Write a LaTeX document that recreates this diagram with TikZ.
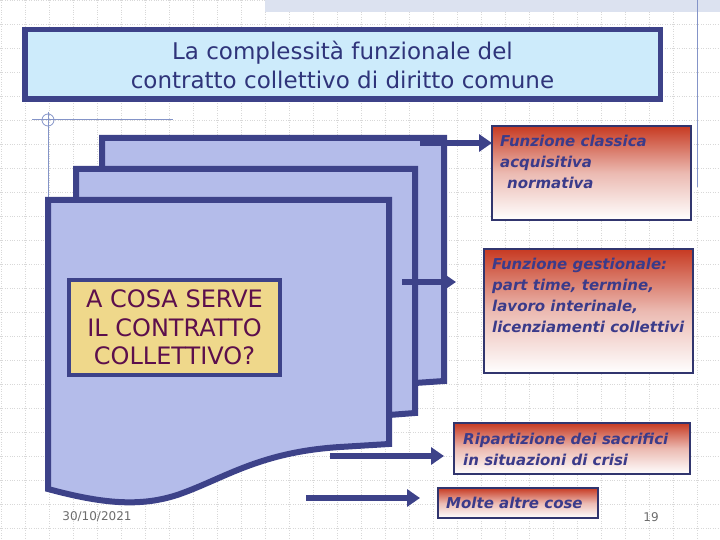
\documentclass[tikz,border=0pt]{standalone}
\usepackage{fontspec}
\setmainfont{DejaVu Sans}
\usetikzlibrary{arrows.meta}
\definecolor{navy}{HTML}{3D4289}
\definecolor{sheetc}{HTML}{B4BCEA}
\definecolor{titlefill}{HTML}{CDEBFB}
\definecolor{titletext}{HTML}{2F347A}
\definecolor{qfill}{HTML}{EFD88B}
\definecolor{qtext}{HTML}{5C0F4C}
\definecolor{fred}{HTML}{C73A22}
\definecolor{ftext}{HTML}{3B3B8A}
\definecolor{gridc}{HTML}{D8D8D8}
\definecolor{guide}{HTML}{8494C8}
\definecolor{bandc}{HTML}{DCE2F0}
\begin{document}
\begin{tikzpicture}[x=1pt,y=-1pt,
  sheetpath/.style={draw=navy, fill=sheetc, line width=6pt},
  arr/.style={navy, line width=6pt, -{Triangle[length=13pt,width=17pt]}},
  fbox/.style={draw=navy!80!black, line width=1.2pt, top color=fred, bottom color=white, middle color=fred!35!white},
  ftxt/.style={text=ftext, font=\fontsize{15}{21}\selectfont\bfseries\itshape, align=left, inner sep=0pt, anchor=base west}]
  \useasboundingbox (0,0) rectangle (720,540);
  \foreach \gx in {1,25,...,721} \draw[gridc, dotted] (\gx,0) -- (\gx,540);
  \foreach \gy in {0,24,...,540} \draw[gridc, dotted] (0,\gy) -- (720,\gy);
  \fill[bandc] (265,0) rectangle (720,12);
  \draw[guide, line width=1pt] (697,0) -- (697,187);
  \draw[guide, line width=0.8pt] (32,119) -- (173,119);
  \draw[guide, line width=0.8pt] (48,112) -- (48,200);
  \draw[guide, line width=0.8pt] (48,120) circle (6);

  \node[draw=navy, fill=titlefill, line width=5.5pt, minimum width=635.5pt, minimum height=69.5pt,
        text=titletext, font=\fontsize{23}{29}\selectfont, align=center] (title) at (342.5,64.5)
        {La complessità funzionale del\\contratto collettivo di diritto comune};

  \draw[sheetpath] (102,138) -- (444,138) -- (444,381) -- (415,383) -- (102,383) -- cycle;
  \draw[sheetpath] (76,169) -- (415,169) -- (415,413) -- (389,415) -- (76,415) -- cycle;
  \draw[sheetpath] (48,200) -- (389,200) -- (389,444) -- (340,447)
    .. controls (260,452) and (225,478) .. (180,494)
    .. controls (140,508) and (100,503) .. (48,489) -- cycle;

  \node[draw=navy, fill=qfill, line width=4pt, minimum width=211pt, minimum height=95pt,
        text=qtext, font=\fontsize{24}{28.5}\selectfont, align=center] (q) at (174.5,327.5)
        {A COSA SERVE\\IL CONTRATTO\\COLLETTIVO?};

  \draw[fbox] (492,126) rectangle (691,220);
  \draw[fbox] (484,249) rectangle (693,373);
  \draw[fbox] (454,423) rectangle (690,474);
  \draw[fbox] (438,488) rectangle (598,518);
  \node[ftxt] (f1) at (500,189) {Funzione classica\\acquisitiva\\\hspace*{7pt}normativa};
  \node[ftxt] (f2) at (492,332) {Funzione gestionale:\\part time, termine,\\lavoro interinale,\\licenziamenti collettivi};
  \node[ftxt] (f3) at (463,465) {Ripartizione dei sacrifici\\in situazioni di crisi};
  \node[ftxt] (f4) at (446,508) {Molte altre cose};

  \coordinate (a1) at (420,143); \coordinate (t1) at (492,143);
  \coordinate (a2) at (402,282); \coordinate (t2) at (456,282);
  \coordinate (a3) at (330,456); \coordinate (t3) at (444,456);
  \coordinate (a4) at (306,498); \coordinate (t4) at (420,498);
  \draw[arr] (a1) -- (t1);
  \draw[arr] (a2) -- (t2);
  \draw[arr] (a3) -- (t3);
  \draw[arr] (a4) -- (t4);

  \node[gray!85!black, font=\fontsize{12}{14}\selectfont] (date) at (97,517) {30/10/2021};
  \node[gray!85!black, font=\fontsize{12}{14}\selectfont] (num) at (651,517) {19};
\end{tikzpicture}
\end{document}
